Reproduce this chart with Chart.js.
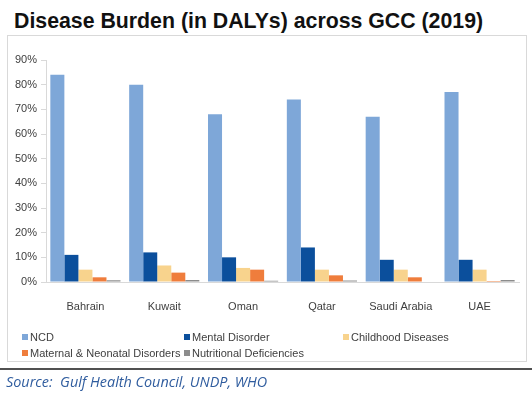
<!DOCTYPE html>
<html>
<head>
<meta charset="utf-8">
<script src="https://cdn.jsdelivr.net/npm/chart.js@4.4.1/dist/chart.umd.min.js"></script>
<style>
  html, body { margin: 0; padding: 0; background: #fff; }
  body { width: 532px; height: 393px; position: relative; overflow: hidden; font-family: "Liberation Sans", Arial, sans-serif; }
  #title { position: absolute; left: 14px; top: 9px; font-size: 21.3px; font-weight: bold; color: #111; white-space: nowrap; }
  #box { position: absolute; left: 7px; top: 35px; width: 520px; height: 327px; border: 1px solid #d9d9d9; box-sizing: border-box; }
  #wrap { position: absolute; left: 0; top: 0; width: 532px; height: 393px; }
  #legend { position: absolute; left: 0; top: 331px; width: 532px; height: 32px; font-size: 11px; color: #404040; }
  #legend .item { position: absolute; white-space: nowrap; }
  #legend .sw { display: inline-block; width: 6px; height: 6px; margin-right: 2px; vertical-align: 1px; }
  #rule { position: absolute; left: 0; top: 368px; width: 532px; height: 2px; background: #505050; }
  #source { position: absolute; left: 6px; top: 372px; font-family: "Open Sans", sans-serif; font-style: italic; font-size: 14.4px; color: #2f5c9e; white-space: nowrap; }
</style>
</head>
<body>
<div id="title">Disease Burden (in DALYs) across GCC (2019)</div>
<div id="box"></div>
<div id="wrap"><canvas id="chart" width="532" height="393"></canvas></div>
<div id="legend"></div>
<div id="rule"></div>
<div id="source">Source:&nbsp; Gulf Health Council, UNDP, WHO</div>

<script>
/* data */
const countries = ["Bahrain", "Kuwait", "Oman", "Qatar", "Saudi Arabia", "UAE"];
const ncd         = [84, 80, 68, 74, 67, 77];
const mental      = [11, 12, 10, 14, 9, 9];
const childhood   = [5, 6.7, 5.7, 5, 5, 5];
const maternal    = [1.9, 3.8, 5, 2.7, 1.9, 0.4];
const nutritional = [0.7, 0.8, 0.5, 0.6, 0, 0.8];
const yTicks = [0, 10, 20, 30, 40, 50, 60, 70, 80, 90];

// legend layout (col x, row y) in the original
const legendSlots = [[22, 0], [184, 0], [343, 0], [22, 16], [184, 16]];

function ds(label, data, color) {
  return { label: label, data: data, backgroundColor: color, borderWidth: 0,
           barPercentage: 1, categoryPercentage: 0.89 };
}

const htmlLegend = {
  id: 'htmlLegend',
  afterUpdate(chart) {
    const box = document.getElementById('legend');
    box.innerHTML = '';
    chart.data.datasets.forEach((d, i) => {
      const el = document.createElement('div');
      el.className = 'item';
      el.style.left = legendSlots[i][0] + 'px';
      el.style.top = legendSlots[i][1] + 'px';
      const sw = document.createElement('span');
      sw.className = 'sw';
      sw.style.background = d.backgroundColor;
      el.appendChild(sw);
      el.appendChild(document.createTextNode(d.label));
      box.appendChild(el);
    });
  }
};

new Chart(document.getElementById('chart'), {
  type: 'bar',
  data: {
    labels: countries,
    datasets: [
      ds('NCD', ncd, '#7ea7d8'),
      ds('Mental Disorder', mental, '#0b4f9c'),
      ds('Childhood Diseases', childhood, '#f8d38d'),
      ds('Maternal & Neonatal Disorders', maternal, '#ef7d3c'),
      ds('Nutritional Deficiencies', nutritional, '#8c8c8c')
    ]
  },
  options: {
    responsive: false,
    animation: false,
    layout: { padding: { left: 0, top: 60, right: 13, bottom: 0 } },
    plugins: {
      legend: { display: false },
      tooltip: { enabled: false },
      title: { display: false }
    },
    scales: {
      x: {
        grid: { display: false },
        border: { display: true, color: '#d9d9d9', width: 1 },
        ticks: { color: '#404040', font: { family: 'Liberation Sans', size: 11 }, padding: 10, maxRotation: 0 },
        afterFit(scale) { scale.height = 111; }
      },
      y: {
        min: 0, max: 90,
        afterBuildTicks(scale) { scale.ticks = yTicks.map(v => ({ value: v })); },
        grid: { drawOnChartArea: false, drawTicks: true, tickLength: 5, color: '#d9d9d9' },
        border: { display: true, color: '#d9d9d9', width: 1 },
        ticks: {
          color: '#404040', font: { family: 'Liberation Sans', size: 11 }, padding: 4,
          callback: v => v + '%'
        },
        afterFit(scale) { scale.width = 46; }
      }
    }
  },
  plugins: [htmlLegend]
});
</script>
</body>
</html>
